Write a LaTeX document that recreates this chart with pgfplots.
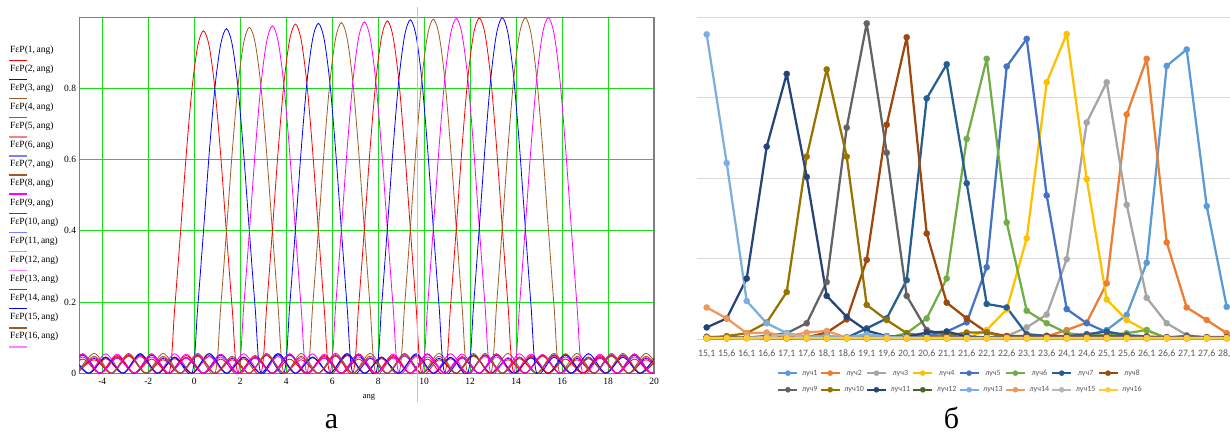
\documentclass[border=0pt]{standalone}
\usepackage{fontspec}
\setmainfont{Liberation Serif}
\newfontfamily\calibri{Carlito}
\usepackage{pgfplots}
\pgfplotsset{compat=1.18}
\usepackage{pgfplotstable}

\definecolor{mred}{RGB}{255,0,0}
\definecolor{mblue}{RGB}{0,0,255}
\definecolor{mbrown}{RGB}{160,90,35}
\definecolor{mmag}{RGB}{255,0,255}
\definecolor{lred}{RGB}{245,130,130}
\definecolor{lblue}{RGB}{125,125,255}
\definecolor{ltan}{RGB}{200,165,130}
\definecolor{lmag}{RGB}{255,130,255}
\definecolor{mgreen}{RGB}{20,225,20}
\definecolor{mframe}{RGB}{128,128,128}
\definecolor{egrid}{RGB}{217,217,217}
\definecolor{etext}{RGB}{89,89,89}
\definecolor{s1}{HTML}{5B9BD5}
\definecolor{s2}{HTML}{ED7D31}
\definecolor{s3}{HTML}{A5A5A5}
\definecolor{s4}{HTML}{FFC000}
\definecolor{s5}{HTML}{4472C4}
\definecolor{s6}{HTML}{70AD47}
\definecolor{s7}{HTML}{255E91}
\definecolor{s8}{HTML}{9E480E}
\definecolor{s9}{HTML}{636363}
\definecolor{s10}{HTML}{997300}
\definecolor{s11}{HTML}{264478}
\definecolor{s12}{HTML}{43682B}
\definecolor{s13}{HTML}{7CAFDD}
\definecolor{s14}{HTML}{F1975A}
\definecolor{s15}{HTML}{B7B7B7}
\definecolor{s16}{HTML}{FFCD33}

\pgfplotstableread{
i l1 l2 l3 l4 l5 l6 l7 l8 l9 l10 l11 l12 l13 l14 l15 l16
0 0.004 0.003 0.003 0.002 0.003 0.003 0.004 0.005 0.007 0.004 0.036 0.002 0.947 0.098 0.003 0.002
1 0.004 0.004 0.003 0.002 0.003 0.003 0.004 0.005 0.005 0.009 0.064 0.002 0.547 0.064 0.003 0.002
2 0.005 0.005 0.003 0.002 0.003 0.003 0.004 0.005 0.004 0.018 0.188 0.004 0.118 0.018 0.004 0.002
3 0.006 0.004 0.003 0.002 0.003 0.003 0.004 0.005 0.010 0.051 0.598 0.002 0.049 0.020 0.006 0.002
4 0.005 0.003 0.003 0.002 0.003 0.003 0.004 0.005 0.018 0.146 0.824 0.002 0.018 0.008 0.015 0.002
5 0.004 0.004 0.003 0.002 0.003 0.003 0.004 0.005 0.049 0.567 0.504 0.002 0.007 0.020 0.004 0.002
6 0.005 0.005 0.003 0.002 0.003 0.003 0.004 0.020 0.177 0.838 0.134 0.002 0.010 0.025 0.003 0.002
7 0.006 0.004 0.003 0.002 0.003 0.003 0.004 0.061 0.657 0.567 0.069 0.002 0.005 0.004 0.003 0.002
8 0.005 0.003 0.003 0.002 0.003 0.003 0.033 0.246 0.981 0.106 0.026 0.002 0.015 0.003 0.003 0.002
9 0.004 0.004 0.003 0.002 0.003 0.003 0.064 0.666 0.579 0.059 0.009 0.002 0.008 0.003 0.003 0.002
10 0.004 0.005 0.003 0.002 0.003 0.018 0.183 0.938 0.134 0.018 0.007 0.002 0.005 0.003 0.003 0.002
11 0.005 0.004 0.003 0.002 0.010 0.064 0.748 0.328 0.028 0.008 0.020 0.002 0.003 0.003 0.003 0.002
12 0.006 0.003 0.003 0.002 0.023 0.188 0.854 0.113 0.012 0.010 0.023 0.002 0.003 0.003 0.003 0.002
13 0.005 0.004 0.003 0.002 0.052 0.622 0.484 0.064 0.004 0.020 0.008 0.002 0.003 0.003 0.003 0.002
14 0.004 0.005 0.003 0.028 0.223 0.871 0.109 0.021 0.004 0.020 0.005 0.002 0.003 0.003 0.003 0.002
15 0.003 0.004 0.009 0.092 0.847 0.362 0.098 0.009 0.004 0.004 0.004 0.002 0.003 0.003 0.003 0.002
16 0.004 0.005 0.036 0.313 0.933 0.088 0.015 0.009 0.004 0.003 0.004 0.002 0.003 0.003 0.003 0.002
17 0.005 0.008 0.076 0.798 0.446 0.049 0.010 0.009 0.004 0.003 0.004 0.002 0.003 0.003 0.003 0.002
18 0.006 0.028 0.248 0.948 0.093 0.018 0.008 0.009 0.004 0.003 0.004 0.002 0.003 0.003 0.003 0.002
19 0.010 0.051 0.673 0.497 0.049 0.012 0.015 0.009 0.004 0.003 0.004 0.002 0.003 0.003 0.003 0.002
20 0.028 0.173 0.798 0.123 0.021 0.012 0.023 0.009 0.004 0.003 0.004 0.002 0.003 0.003 0.003 0.002
21 0.075 0.698 0.417 0.059 0.008 0.018 0.012 0.009 0.004 0.003 0.004 0.002 0.003 0.003 0.003 0.002
22 0.237 0.871 0.128 0.025 0.004 0.028 0.008 0.006 0.004 0.003 0.004 0.002 0.003 0.003 0.003 0.002
23 0.849 0.300 0.049 0.004 0.004 0.003 0.004 0.006 0.004 0.003 0.004 0.002 0.003 0.003 0.003 0.002
24 0.900 0.098 0.012 0.003 0.010 0.003 0.004 0.006 0.004 0.003 0.004 0.002 0.003 0.003 0.003 0.002
25 0.413 0.059 0.005 0.003 0.004 0.003 0.004 0.006 0.004 0.003 0.004 0.002 0.003 0.003 0.003 0.002
26 0.100 0.018 0.004 0.003 0.003 0.003 0.004 0.006 0.004 0.003 0.004 0.002 0.003 0.003 0.003 0.002
}\excel

\begin{document}
\begin{tikzpicture}
% ---------------- left panel (Mathcad) ----------------
\begin{axis}[
  at={(79.3pt,59.7pt)}, anchor=south west,
  width=574.7pt, height=356pt, scale only axis,
  xmin=-5, xmax=20, ymin=0, ymax=1,
  xtick={-4,-2,0,2,4,6,8,10,12,14,16,18,20},
  ytick={0,0.2,0.4,0.6,0.8},
  xmajorgrids, ymajorgrids,
  major grid style={draw=mgreen, line width=0.9pt},
  axis line style={draw=mframe, line width=1.3pt},
  major tick length=0pt,
  tick label style={font=\fontsize{9.5}{10}\selectfont, inner sep=0pt},
  xticklabel style={anchor=north}, yticklabel style={anchor=east},
  xticklabel shift=4.7pt, yticklabel shift=3pt,
  /pgf/number format/assume math mode=true,
  every axis plot/.append style={line width=0.8pt, smooth, tension=0.5, no markers},
]
\addplot[mred] coordinates {(-5.6,0) (-4.85,.055) (-4.1,0) (-3.35,.047) (-2.6,0) (-1.85,.055) (-1.1,0)
(-0.85,.183) (-0.6,.394) (-0.35,.613) (-0.1,.798) (0.15,.919) (0.4,.962) (0.65,.919) (0.9,.798) (1.15,.613) (1.4,.394) (1.65,.183) (1.9,0)
(2.65,.047) (3.4,0) (4.15,.055) (4.9,0) (5.65,.047) (6.4,0) (7.15,.055) (7.9,0) (8.65,.047) (9.4,0) (10.15,.055) (10.9,0) (11.65,.047) (12.4,0) (13.15,.055) (13.9,0) (14.65,.047) (15.4,0) (16.15,.055) (16.9,0) (17.65,.047) (18.4,0) (19.15,.055) (19.9,0) (20.65,.047)};
\addplot[mblue] coordinates {(-5.35,.052) (-4.6,0) (-3.85,.044) (-3.1,0) (-2.35,.052) (-1.6,0) (-0.85,.044) (-0.1,0)
(0.15,.184) (0.4,.397) (0.65,.617) (0.9,.803) (1.15,.924) (1.4,.968) (1.65,.924) (1.9,.803) (2.15,.617) (2.4,.397) (2.65,.184) (2.9,0)
(3.65,.052) (4.4,0) (5.15,.044) (5.9,0) (6.65,.052) (7.4,0) (8.15,.044) (8.9,0) (9.65,.052) (10.4,0) (11.15,.044) (11.9,0) (12.65,.052) (13.4,0) (14.15,.044) (14.9,0) (15.65,.052) (16.4,0) (17.15,.044) (17.9,0) (18.65,.052) (19.4,0) (20.15,.044)};
\addplot[mbrown] coordinates {(-5.1,0) (-4.35,.056) (-3.6,0) (-2.85,.048) (-2.1,0) (-1.35,.056) (-0.6,0) (0.15,.048) (0.9,0)
(1.15,.185) (1.4,.399) (1.65,.619) (1.9,.807) (2.15,.928) (2.4,.972) (2.65,.928) (2.9,.807) (3.15,.619) (3.4,.399) (3.65,.185) (3.9,0)
(4.65,.056) (5.4,0) (6.15,.048) (6.9,0) (7.65,.056) (8.4,0) (9.15,.048) (9.9,0) (10.65,.056) (11.4,0) (12.15,.048) (12.9,0) (13.65,.056) (14.4,0) (15.15,.048) (15.9,0) (16.65,.056) (17.4,0) (18.15,.048) (18.9,0) (19.65,.056) (20.4,0)};
\addplot[mmag] coordinates {(-5.6,0) (-4.85,.046) (-4.1,0) (-3.35,.054) (-2.6,0) (-1.85,.046) (-1.1,0) (-0.35,.054) (0.4,0) (1.15,.046) (1.9,0)
(2.15,.185) (2.4,.400) (2.65,.622) (2.9,.810) (3.15,.932) (3.4,.976) (3.65,.932) (3.9,.810) (4.15,.622) (4.4,.400) (4.65,.185) (4.9,0)
(5.65,.054) (6.4,0) (7.15,.046) (7.9,0) (8.65,.054) (9.4,0) (10.15,.046) (10.9,0) (11.65,.054) (12.4,0) (13.15,.046) (13.9,0) (14.65,.054) (15.4,0) (16.15,.046) (16.9,0) (17.65,.054) (18.4,0) (19.15,.046) (19.9,0) (20.65,.054)};
\addplot[mred] coordinates {(-5.35,.050) (-4.6,0) (-3.85,.041) (-3.1,0) (-2.35,.050) (-1.6,0) (-0.85,.041) (-0.1,0) (0.65,.050) (1.4,0) (2.15,.041) (2.9,0)
(3.15,.186) (3.4,.402) (3.65,.625) (3.9,.814) (4.15,.937) (4.4,.981) (4.65,.937) (4.9,.814) (5.15,.625) (5.4,.402) (5.65,.186) (5.9,0)
(6.65,.050) (7.4,0) (8.15,.041) (8.9,0) (9.65,.050) (10.4,0) (11.15,.041) (11.9,0) (12.65,.050) (13.4,0) (14.15,.041) (14.9,0) (15.65,.050) (16.4,0) (17.15,.041) (17.9,0) (18.65,.050) (19.4,0) (20.15,.041)};
\addplot[mblue] coordinates {(-5.1,0) (-4.35,.042) (-3.6,0) (-2.85,.052) (-2.1,0) (-1.35,.042) (-0.6,0) (0.15,.052) (0.9,0) (1.65,.042) (2.4,0) (3.15,.052) (3.9,0)
(4.15,.187) (4.4,.403) (4.65,.626) (4.9,.816) (5.15,.939) (5.4,.983) (5.65,.939) (5.9,.816) (6.15,.626) (6.4,.403) (6.65,.187) (6.9,0)
(7.65,.042) (8.4,0) (9.15,.052) (9.9,0) (10.65,.042) (11.4,0) (12.15,.052) (12.9,0) (13.65,.042) (14.4,0) (15.15,.052) (15.9,0) (16.65,.042) (17.4,0) (18.15,.052) (18.9,0) (19.65,.042) (20.4,0)};
\addplot[mbrown] coordinates {(-5.6,0) (-4.85,.054) (-4.1,0) (-3.35,.045) (-2.6,0) (-1.85,.054) (-1.1,0) (-0.35,.045) (0.4,0) (1.15,.054) (1.9,0) (2.65,.045) (3.4,0) (4.15,.054) (4.9,0)
(5.15,.187) (5.4,.404) (5.65,.627) (5.9,.818) (6.15,.941) (6.4,.985) (6.65,.941) (6.9,.818) (7.15,.627) (7.4,.404) (7.65,.187) (7.9,0)
(8.65,.045) (9.4,0) (10.15,.054) (10.9,0) (11.65,.045) (12.4,0) (13.15,.054) (13.9,0) (14.65,.045) (15.4,0) (16.15,.054) (16.9,0) (17.65,.045) (18.4,0) (19.15,.054) (19.9,0) (20.65,.045)};
\addplot[mmag] coordinates {(-5.35,.047) (-4.6,0) (-3.85,.055) (-3.1,0) (-2.35,.047) (-1.6,0) (-0.85,.055) (-0.1,0) (0.65,.047) (1.4,0) (2.15,.055) (2.9,0) (3.65,.047) (4.4,0) (5.15,.055) (5.9,0)
(6.15,.188) (6.4,.405) (6.65,.629) (6.9,.819) (7.15,.943) (7.4,.987) (7.65,.943) (7.9,.819) (8.15,.629) (8.4,.405) (8.65,.188) (8.9,0)
(9.65,.047) (10.4,0) (11.15,.055) (11.9,0) (12.65,.047) (13.4,0) (14.15,.055) (14.9,0) (15.65,.047) (16.4,0) (17.15,.055) (17.9,0) (18.65,.047) (19.4,0) (20.15,.055)};
\addplot[mred] coordinates {(-5.1,0) (-4.35,.038) (-3.6,0) (-2.85,.050) (-2.1,0) (-1.35,.038) (-0.6,0) (0.15,.050) (0.9,0) (1.65,.038) (2.4,0) (3.15,.050) (3.9,0) (4.65,.038) (5.4,0) (6.15,.050) (6.9,0)
(7.15,.188) (7.4,.406) (7.65,.631) (7.9,.822) (8.15,.945) (8.4,.990) (8.65,.945) (8.9,.822) (9.15,.631) (9.4,.406) (9.65,.188) (9.9,0)
(10.65,.038) (11.4,0) (12.15,.050) (12.9,0) (13.65,.038) (14.4,0) (15.15,.050) (15.9,0) (16.65,.038) (17.4,0) (18.15,.050) (18.9,0) (19.65,.038) (20.4,0)};
\addplot[mblue] coordinates {(-5.6,0) (-4.85,.051) (-4.1,0) (-3.35,.043) (-2.6,0) (-1.85,.051) (-1.1,0) (-0.35,.043) (0.4,0) (1.15,.051) (1.9,0) (2.65,.043) (3.4,0) (4.15,.051) (4.9,0) (5.65,.043) (6.4,0) (7.15,.051) (7.9,0)
(8.15,.189) (8.4,.407) (8.65,.633) (8.9,.824) (9.15,.948) (9.4,.993) (9.65,.948) (9.9,.824) (10.15,.633) (10.4,.407) (10.65,.189) (10.9,0)
(11.65,.043) (12.4,0) (13.15,.051) (13.9,0) (14.65,.043) (15.4,0) (16.15,.051) (16.9,0) (17.65,.043) (18.4,0) (19.15,.051) (19.9,0) (20.65,.043)};
\addplot[mbrown] coordinates {(-5.35,.056) (-4.6,0) (-3.85,.046) (-3.1,0) (-2.35,.056) (-1.6,0) (-0.85,.046) (-0.1,0) (0.65,.056) (1.4,0) (2.15,.046) (2.9,0) (3.65,.056) (4.4,0) (5.15,.046) (5.9,0) (6.65,.056) (7.4,0) (8.15,.046) (8.9,0)
(9.15,.189) (9.4,.408) (9.65,.634) (9.9,.826) (10.15,.950) (10.4,.995) (10.65,.950) (10.9,.826) (11.15,.634) (11.4,.408) (11.65,.189) (11.9,0)
(12.65,.056) (13.4,0) (14.15,.046) (14.9,0) (15.65,.056) (16.4,0) (17.15,.046) (17.9,0) (18.65,.056) (19.4,0) (20.15,.046)};
\addplot[mmag] coordinates {(-5.1,0) (-4.35,.044) (-3.6,0) (-2.85,.053) (-2.1,0) (-1.35,.044) (-0.6,0) (0.15,.053) (0.9,0) (1.65,.044) (2.4,0) (3.15,.053) (3.9,0) (4.65,.044) (5.4,0) (6.15,.053) (6.9,0) (7.65,.044) (8.4,0) (9.15,.053) (9.9,0)
(10.15,.189) (10.4,.409) (10.65,.635) (10.9,.828) (11.15,.952) (11.4,.997) (11.65,.952) (11.9,.828) (12.15,.635) (12.4,.409) (12.65,.189) (12.9,0)
(13.65,.044) (14.4,0) (15.15,.053) (15.9,0) (16.65,.044) (17.4,0) (18.15,.053) (18.9,0) (19.65,.044) (20.4,0)};
\addplot[mred] coordinates {(-5.6,0) (-4.85,.040) (-4.1,0) (-3.35,.050) (-2.6,0) (-1.85,.040) (-1.1,0) (-0.35,.050) (0.4,0) (1.15,.040) (1.9,0) (2.65,.050) (3.4,0) (4.15,.040) (4.9,0) (5.65,.050) (6.4,0) (7.15,.040) (7.9,0) (8.65,.050) (9.4,0) (10.15,.040) (10.9,0)
(11.15,.190) (11.4,.409) (11.65,.636) (11.9,.828) (12.15,.953) (12.4,.998) (12.65,.953) (12.9,.828) (13.15,.636) (13.4,.409) (13.65,.190) (13.9,0)
(14.65,.050) (15.4,0) (16.15,.040) (16.9,0) (17.65,.050) (18.4,0) (19.15,.040) (19.9,0) (20.65,.050)};
\addplot[mblue] coordinates {(-5.35,.055) (-4.6,0) (-3.85,.045) (-3.1,0) (-2.35,.055) (-1.6,0) (-0.85,.045) (-0.1,0) (0.65,.055) (1.4,0) (2.15,.045) (2.9,0) (3.65,.055) (4.4,0) (5.15,.045) (5.9,0) (6.65,.055) (7.4,0) (8.15,.045) (8.9,0) (9.65,.055) (10.4,0) (11.15,.045) (11.9,0)
(12.15,.190) (12.4,.410) (12.65,.636) (12.9,.829) (13.15,.954) (13.4,.999) (13.65,.954) (13.9,.829) (14.15,.636) (14.4,.410) (14.65,.190) (14.9,0)
(15.65,.045) (16.4,0) (17.15,.055) (17.9,0) (18.65,.045) (19.4,0) (20.15,.055)};
\addplot[mbrown] coordinates {(-5.1,0) (-4.35,.048) (-3.6,0) (-2.85,.056) (-2.1,0) (-1.35,.048) (-0.6,0) (0.15,.056) (0.9,0) (1.65,.048) (2.4,0) (3.15,.056) (3.9,0) (4.65,.048) (5.4,0) (6.15,.056) (6.9,0) (7.65,.048) (8.4,0) (9.15,.056) (9.9,0) (10.65,.048) (11.4,0) (12.15,.056) (12.9,0)
(13.15,.190) (13.4,.410) (13.65,.636) (13.9,.829) (14.15,.954) (14.4,.999) (14.65,.954) (14.9,.829) (15.15,.636) (15.4,.410) (15.65,.190) (15.9,0)
(16.65,.048) (17.4,0) (18.15,.056) (18.9,0) (19.65,.048) (20.4,0)};
\addplot[mmag] coordinates {(-5.6,0) (-4.85,.053) (-4.1,0) (-3.35,.043) (-2.6,0) (-1.85,.053) (-1.1,0) (-0.35,.043) (0.4,0) (1.15,.053) (1.9,0) (2.65,.043) (3.4,0) (4.15,.053) (4.9,0) (5.65,.043) (6.4,0) (7.15,.053) (7.9,0) (8.65,.043) (9.4,0) (10.15,.053) (10.9,0) (11.65,.043) (12.4,0) (13.15,.053) (13.9,0)
(14.15,.190) (14.4,.410) (14.65,.636) (14.9,.829) (15.15,.954) (15.4,.999) (15.65,.954) (15.9,.829) (16.15,.636) (16.4,.410) (16.65,.190) (16.9,0)
(17.65,.043) (18.4,0) (19.15,.053) (19.9,0) (20.65,.043)};
\end{axis}
\node[font=\fontsize{8.5}{9}\selectfont, inner sep=0pt] at (369pt,35.3pt) {ang};
\draw[color={rgb,255:red,195;green,195;blue,195}, line width=1.6pt] (417.3pt,31pt) -- (417.3pt,426pt);
% manual Mathcad legend
\foreach \j/\c in {1/mred,2/mblue,3/mbrown,4/mmag,5/lred,6/lblue,7/mbrown,8/mmag,9/mred,10/lblue,11/ltan,12/lmag,13/mred,14/mblue,15/mbrown,16/lmag}{
  \pgfmathsetmacro\yt{383-19.1*(\j-1)}
  \pgfmathsetmacro\yl{372.5-19.1*(\j-1)}
  \node[anchor=west, inner sep=0pt, font=\fontsize{9.5}{10}\selectfont] at (10pt,\yt pt) {FεP(\j,\,ang)};
  \draw[\c, line width=1.4pt] (9pt,\yl pt) -- (27pt,\yl pt);
}
% ---------------- right panel (Excel) ----------------
\begin{axis}[
  at={(696.7pt,94pt)}, anchor=south west,
  width=540pt, height=321.7pt, scale only axis,
  xmin=-0.5, xmax=26.5, ymin=0, ymax=1,
  xtick={0,...,26},
  xticklabels={{15,1},{15,6},{16,1},{16,6},{17,1},{17,6},{18,1},{18,6},{19,1},{19,6},{20,1},{20,6},{21,1},{21,6},{22,1},{22,6},{23,1},{23,6},{24,1},{24,6},{25,1},{25,6},{26,1},{26,6},{27,1},{27,6},{28,1}},
  ytick={0,0.25,0.5,0.75,1}, yticklabels={},
  ymajorgrids, major grid style={draw=egrid, line width=0.8pt},
  axis line style={draw=none},
  major tick length=0pt,
  xticklabel style={font=\calibri\fontsize{9.8}{10}\selectfont, text=etext, inner sep=0pt, anchor=north},
  xticklabel shift=10.5pt,
  clip=false,
  every axis plot/.append style={line width=2.25pt, line join=round, mark=*, mark size=3.1pt, mark options={line width=0.3pt}},
  legend columns=8,
  legend style={at={(0.4876,-0.132)}, anchor=center, draw=none, fill=none,
    font=\calibri\fontsize{8}{9}\selectfont, text=etext,
    nodes={inner sep=1pt, text height=5.5pt, text depth=1.5pt}, row sep=7.6pt,
    /tikz/every odd column/.append style={column sep=2.5pt},
    /tikz/every even column/.append style={column sep=1pt}},
  legend image code/.code={\draw[mark repeat=2, mark phase=2, #1, mark size=2.6pt] plot coordinates {(0pt,0pt) (9.5pt,0pt) (19pt,0pt)};},
]
\addplot[color=s1] table[x=i, y=l1] {\excel}; \addlegendentry{луч1}
\addplot[color=s2] table[x=i, y=l2] {\excel}; \addlegendentry{луч2}
\addplot[color=s3] table[x=i, y=l3] {\excel}; \addlegendentry{луч3}
\addplot[color=s4] table[x=i, y=l4] {\excel}; \addlegendentry{луч4}
\addplot[color=s5] table[x=i, y=l5] {\excel}; \addlegendentry{луч5}
\addplot[color=s6] table[x=i, y=l6] {\excel}; \addlegendentry{луч6}
\addplot[color=s7] table[x=i, y=l7] {\excel}; \addlegendentry{луч7}
\addplot[color=s8] table[x=i, y=l8] {\excel}; \addlegendentry{луч8}
\addplot[color=s9] table[x=i, y=l9] {\excel}; \addlegendentry{луч9}
\addplot[color=s10] table[x=i, y=l10] {\excel}; \addlegendentry{луч10}
\addplot[color=s11] table[x=i, y=l11] {\excel}; \addlegendentry{луч11}
\addplot[color=s12] table[x=i, y=l12] {\excel}; \addlegendentry{луч12}
\addplot[color=s13] table[x=i, y=l13] {\excel}; \addlegendentry{луч13}
\addplot[color=s14] table[x=i, y=l14] {\excel}; \addlegendentry{луч14}
\addplot[color=s15] table[x=i, y=l15] {\excel}; \addlegendentry{луч15}
\addplot[color=s16] table[x=i, y=l16] {\excel}; \addlegendentry{луч16}
\end{axis}
% captions
\node[anchor=base, inner sep=0pt, font=\fontsize{30}{32}\selectfont] at (331.5pt,4.5pt) {а};
\node[anchor=base, inner sep=0pt, font=\fontsize{30}{32}\selectfont] at (951.5pt,4.5pt) {б};
\pgfresetboundingbox
\path[use as bounding box] (0pt,0pt) rectangle (1230pt,433pt);
\end{tikzpicture}
\end{document}
